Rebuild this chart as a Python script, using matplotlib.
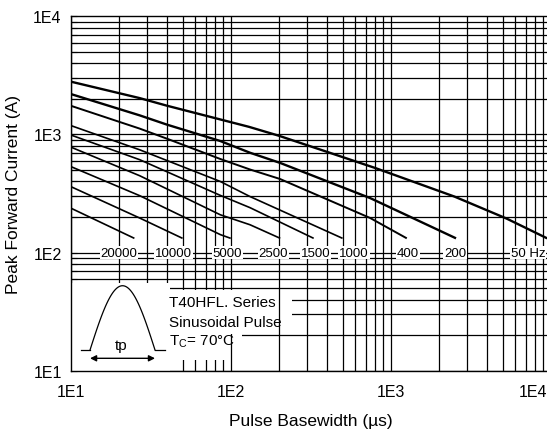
import numpy as np
import matplotlib
matplotlib.use("Agg")
import matplotlib.pyplot as plt
from matplotlib.patches import Rectangle
from matplotlib.transforms import ScaledTranslation

plt.rcParams['font.family'] = ['Liberation Sans', 'DejaVu Sans']
plt.rcParams['mathtext.fontset'] = 'custom'
plt.rcParams['mathtext.rm'] = 'Liberation Sans'

# curves: pulse basewidth (us) -> peak current (A)
freq_labels = ["50 Hz", "200", "400", "1000", "1500", "2500", "5000", "10000", "20000"]
label_x = [7200, 2520, 1280, 590, 340, 185, 95, 44, 20]

c50_x = [10, 27, 40, 130, 200, 800, 2500, 5300, 9500]
c50_y = [2800, 2030, 1750, 1160, 975, 520, 298, 194, 132]
c200_x = [10, 27, 40, 86, 132, 203, 745, 2560]
c200_y = [2200, 1450, 1210, 880, 700, 575, 289, 132]
c400_x = [10, 27, 40, 86, 132, 203, 745, 1260]
c400_y = [1750, 1120, 920, 620, 505, 420, 196, 132]
c1000_x = [10, 27, 86, 132, 500]
c1000_y = [1190, 741, 400, 298, 132]
c1500_x = [10, 27, 86, 132, 330]
c1500_y = [990, 611, 305, 240, 132]
c2500_x = [10, 27, 86, 132, 204]
c2500_y = [782, 447, 209, 172, 132]
c5000_x = [10, 27, 86, 100]
c5000_y = [535, 303, 142, 132]
c10000_x = [10, 27, 50]
c10000_y = [362, 196, 132]
c20000_x = [10, 25]
c20000_y = [238, 132]

curves = [(c50_x, c50_y, 1.7), (c200_x, c200_y, 1.7), (c400_x, c400_y, 1.4),
          (c1000_x, c1000_y, 1.2), (c1500_x, c1500_y, 1.2), (c2500_x, c2500_y, 1.2),
          (c5000_x, c5000_y, 1.2), (c10000_x, c10000_y, 1.2), (c20000_x, c20000_y, 1.2)]

fig = plt.figure(figsize=(5.47, 4.35), dpi=100)
ax = fig.add_axes([0.1293, 0.1455, 0.8775, 0.8147])
ax.set_xscale('log')
ax.set_yscale('log')
ax.set_xlim(10, 1e4)
ax.set_ylim(10, 1e4)

# grid drawn by hand: horizontals under the text box, verticals above it
for dec in [10, 100, 1000]:
    for m in range(1, 10):
        ax.axhline(dec * m, color='black', lw=0.9, zorder=1)
        ax.axvline(dec * m, color='black', lw=0.9, zorder=1.6)

for x, y, lw in curves:
    ax.plot(x, y, color='black', lw=lw, zorder=3, solid_capstyle='butt')

for txt, x in zip(freq_labels, label_x):
    ax.text(x, 100, txt, fontsize=9.5, ha='center', va='center', zorder=4,
            bbox=dict(facecolor='white', edgecolor='none', pad=0.6))

# white areas of the inset
white = dict(facecolor='white', edgecolor='none')
ax.add_patch(Rectangle((41, 25), 199, 23.5, zorder=1.3, **white))    # hides horizontals behind text
ax.add_patch(Rectangle((41, 15), 77, 10, zorder=1.3, **white))
ax.add_patch(Rectangle((10, 10), 31.5, 45, zorder=1.8, **white))     # pulse sketch area
ax.add_patch(Rectangle((41.5, 12.3), 57, 36.2, zorder=1.8, **white))  # verticals 50..90
ax.add_patch(Rectangle((98, 20.5), 6, 28, zorder=1.8, **white))

# pulse sketch
t = np.linspace(0, np.pi, 80)
px = 0.0402 + (0.1756 - 0.0402) * t / np.pi
py = 0.0584 + (0.2398 - 0.0584) * np.sin(t)
ax.plot(px, py, color='black', lw=0.9, transform=ax.transAxes, zorder=5)
ax.plot([0.0208, 0.0402], [0.0584, 0.0584], color='black', lw=0.9, transform=ax.transAxes, zorder=5)
ax.plot([0.1756, 0.1965], [0.0584, 0.0584], color='black', lw=0.9, transform=ax.transAxes, zorder=5)
ax.annotate('', xy=(0.0402, 0.035), xytext=(0.1756, 0.035), xycoords='axes fraction',
            arrowprops=dict(arrowstyle='<|-|>', color='black', lw=1, mutation_scale=9,
                            shrinkA=0, shrinkB=0), zorder=5)
ax.text(0.1048, 0.072, 'tp', fontsize=11, ha='center', va='center', transform=ax.transAxes, zorder=5)

ax.text(0.205, 0.194, 'T40HFL. Series', fontsize=11, va='center', transform=ax.transAxes, zorder=5)
ax.text(0.205, 0.137, 'Sinusoidal Pulse', fontsize=11, va='center', transform=ax.transAxes, zorder=5)
ax.text(0.205, 0.0835, r'T$_{\mathregular{C}}$= 70°C', fontsize=11, va='center',
        transform=ax.transAxes, zorder=5)

ax.set_xticks([10, 100, 1000, 10000])
ax.set_xticklabels(['1E1', '1E2', '1E3', '1E4'])
ax.set_yticks([10, 100, 1000, 10000])
ax.set_yticklabels(['1E1', '1E2', '1E3', '1E4'])
ax.xaxis.set_minor_locator(matplotlib.ticker.NullLocator())
ax.yaxis.set_minor_locator(matplotlib.ticker.LogLocator(subs=np.arange(2, 10)))
ax.yaxis.set_minor_formatter(matplotlib.ticker.NullFormatter())
ax.tick_params(axis='x', length=0, pad=9.5, labelsize=11.5)
ax.tick_params(axis='y', which='both', direction='in', length=4, width=0.8, pad=6.5, labelsize=11.5)
ax.tick_params(axis='y', which='both', zorder=6)

# last x label sits at the figure edge; pull it inside
last = ax.get_xticklabels()[-1]
last.set_transform(last.get_transform() + ScaledTranslation(-18 / 100, 0, fig.dpi_scale_trans))

for s in ax.spines.values():
    s.set_linewidth(1.0)
    s.set_zorder(6)

ax.set_xlabel('Pulse Basewidth (µs)', fontsize=12.5, labelpad=10)
ax.set_ylabel('Peak Forward Current (A)', fontsize=12.5, labelpad=9)

fig.savefig('out.png', dpi=100)
